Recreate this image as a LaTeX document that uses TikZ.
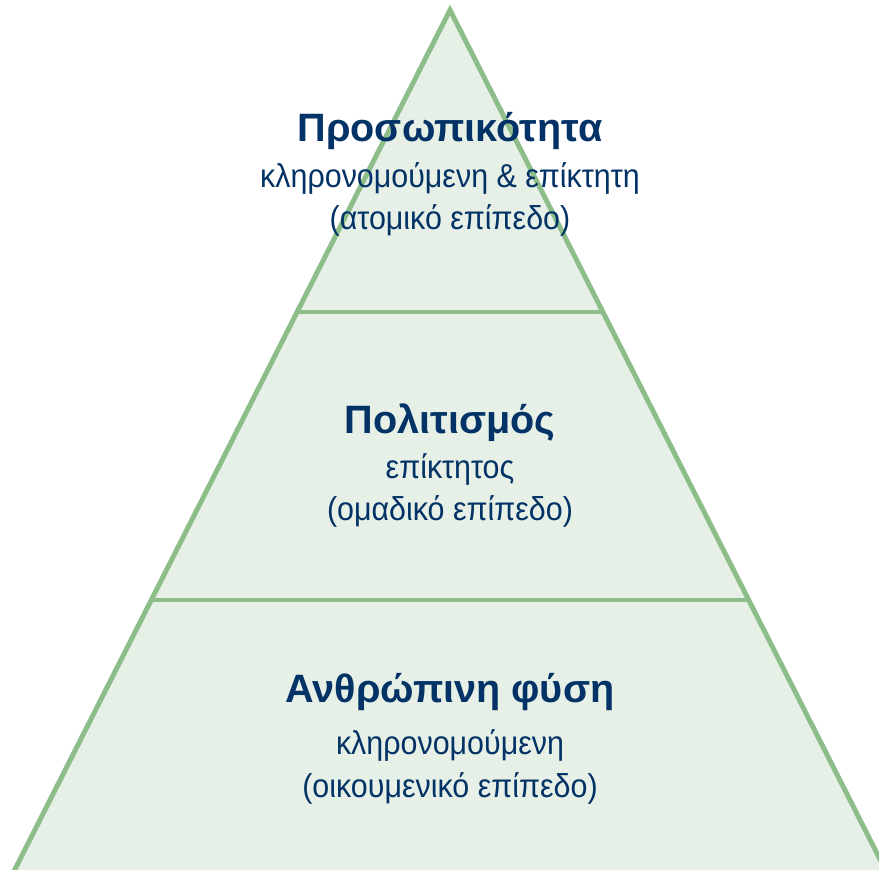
\documentclass[tikz,border=0pt]{standalone}
\usepackage{fontspec}
\setmainfont{Liberation Sans}
\newfontfamily\narrowsans[FakeStretch=0.92]{Liberation Sans}
\usetikzlibrary{calc}

\definecolor{edgegreen}{HTML}{8DBE8A}
\definecolor{fillgreen}{HTML}{E6F0E6}
\definecolor{navy}{HTML}{033366}

\tikzset{
  title/.style={anchor=base, text=navy, font=\fontsize{29.7}{32}\selectfont\bfseries, inner sep=0pt},
  sub/.style={anchor=base, text=navy, font=\narrowsans\fontsize{24.8}{28}\selectfont, inner sep=0pt},
  edge/.style={draw=edgegreen, line width=3.7pt}
}

\begin{document}
\begin{tikzpicture}[x=0.75pt, y=-0.75pt]
\useasboundingbox (0,0) rectangle (879,870);
\clip (0,0) rectangle (879,870);

\coordinate (top) at (450,10);
\coordinate (bl) at (-0.6,900);
\coordinate (br) at (900.6,900);
\coordinate (l1) at (297.1,312);
\coordinate (r1) at (602.9,312);
\coordinate (l2) at (151.3,600);
\coordinate (r2) at (748.7,600);

\fill[fillgreen] (top) -- (br) -- (bl) -- cycle;
\draw[edge] (l1) -- (r1);
\draw[edge] (l2) -- (r2);
\draw[edge] (top) -- (br) -- (bl) -- cycle;

\node[name=p1, title] at (450,142) {Προσωπικότητα};
\node[name=p2, sub] at (450,188) {κληρονομούμενη \& επίκτητη};
\node[name=p3, sub] at (450,230) {(ατομικό επίπεδο)};

\node[name=c1, title] at (450,433) {Πολιτισμός};
\node[name=c2, sub] at (450,478) {επίκτητος};
\node[name=c3, sub] at (450,520) {(ομαδικό επίπεδο)};

\node[name=h1, title] at (450,702) {Ανθρώπινη φύση};
\node[name=h2, sub] at (450,754) {κληρονομούμενη};
\node[name=h3, sub] at (450,797) {(οικουμενικό επίπεδο)};
\end{tikzpicture}
\end{document}
